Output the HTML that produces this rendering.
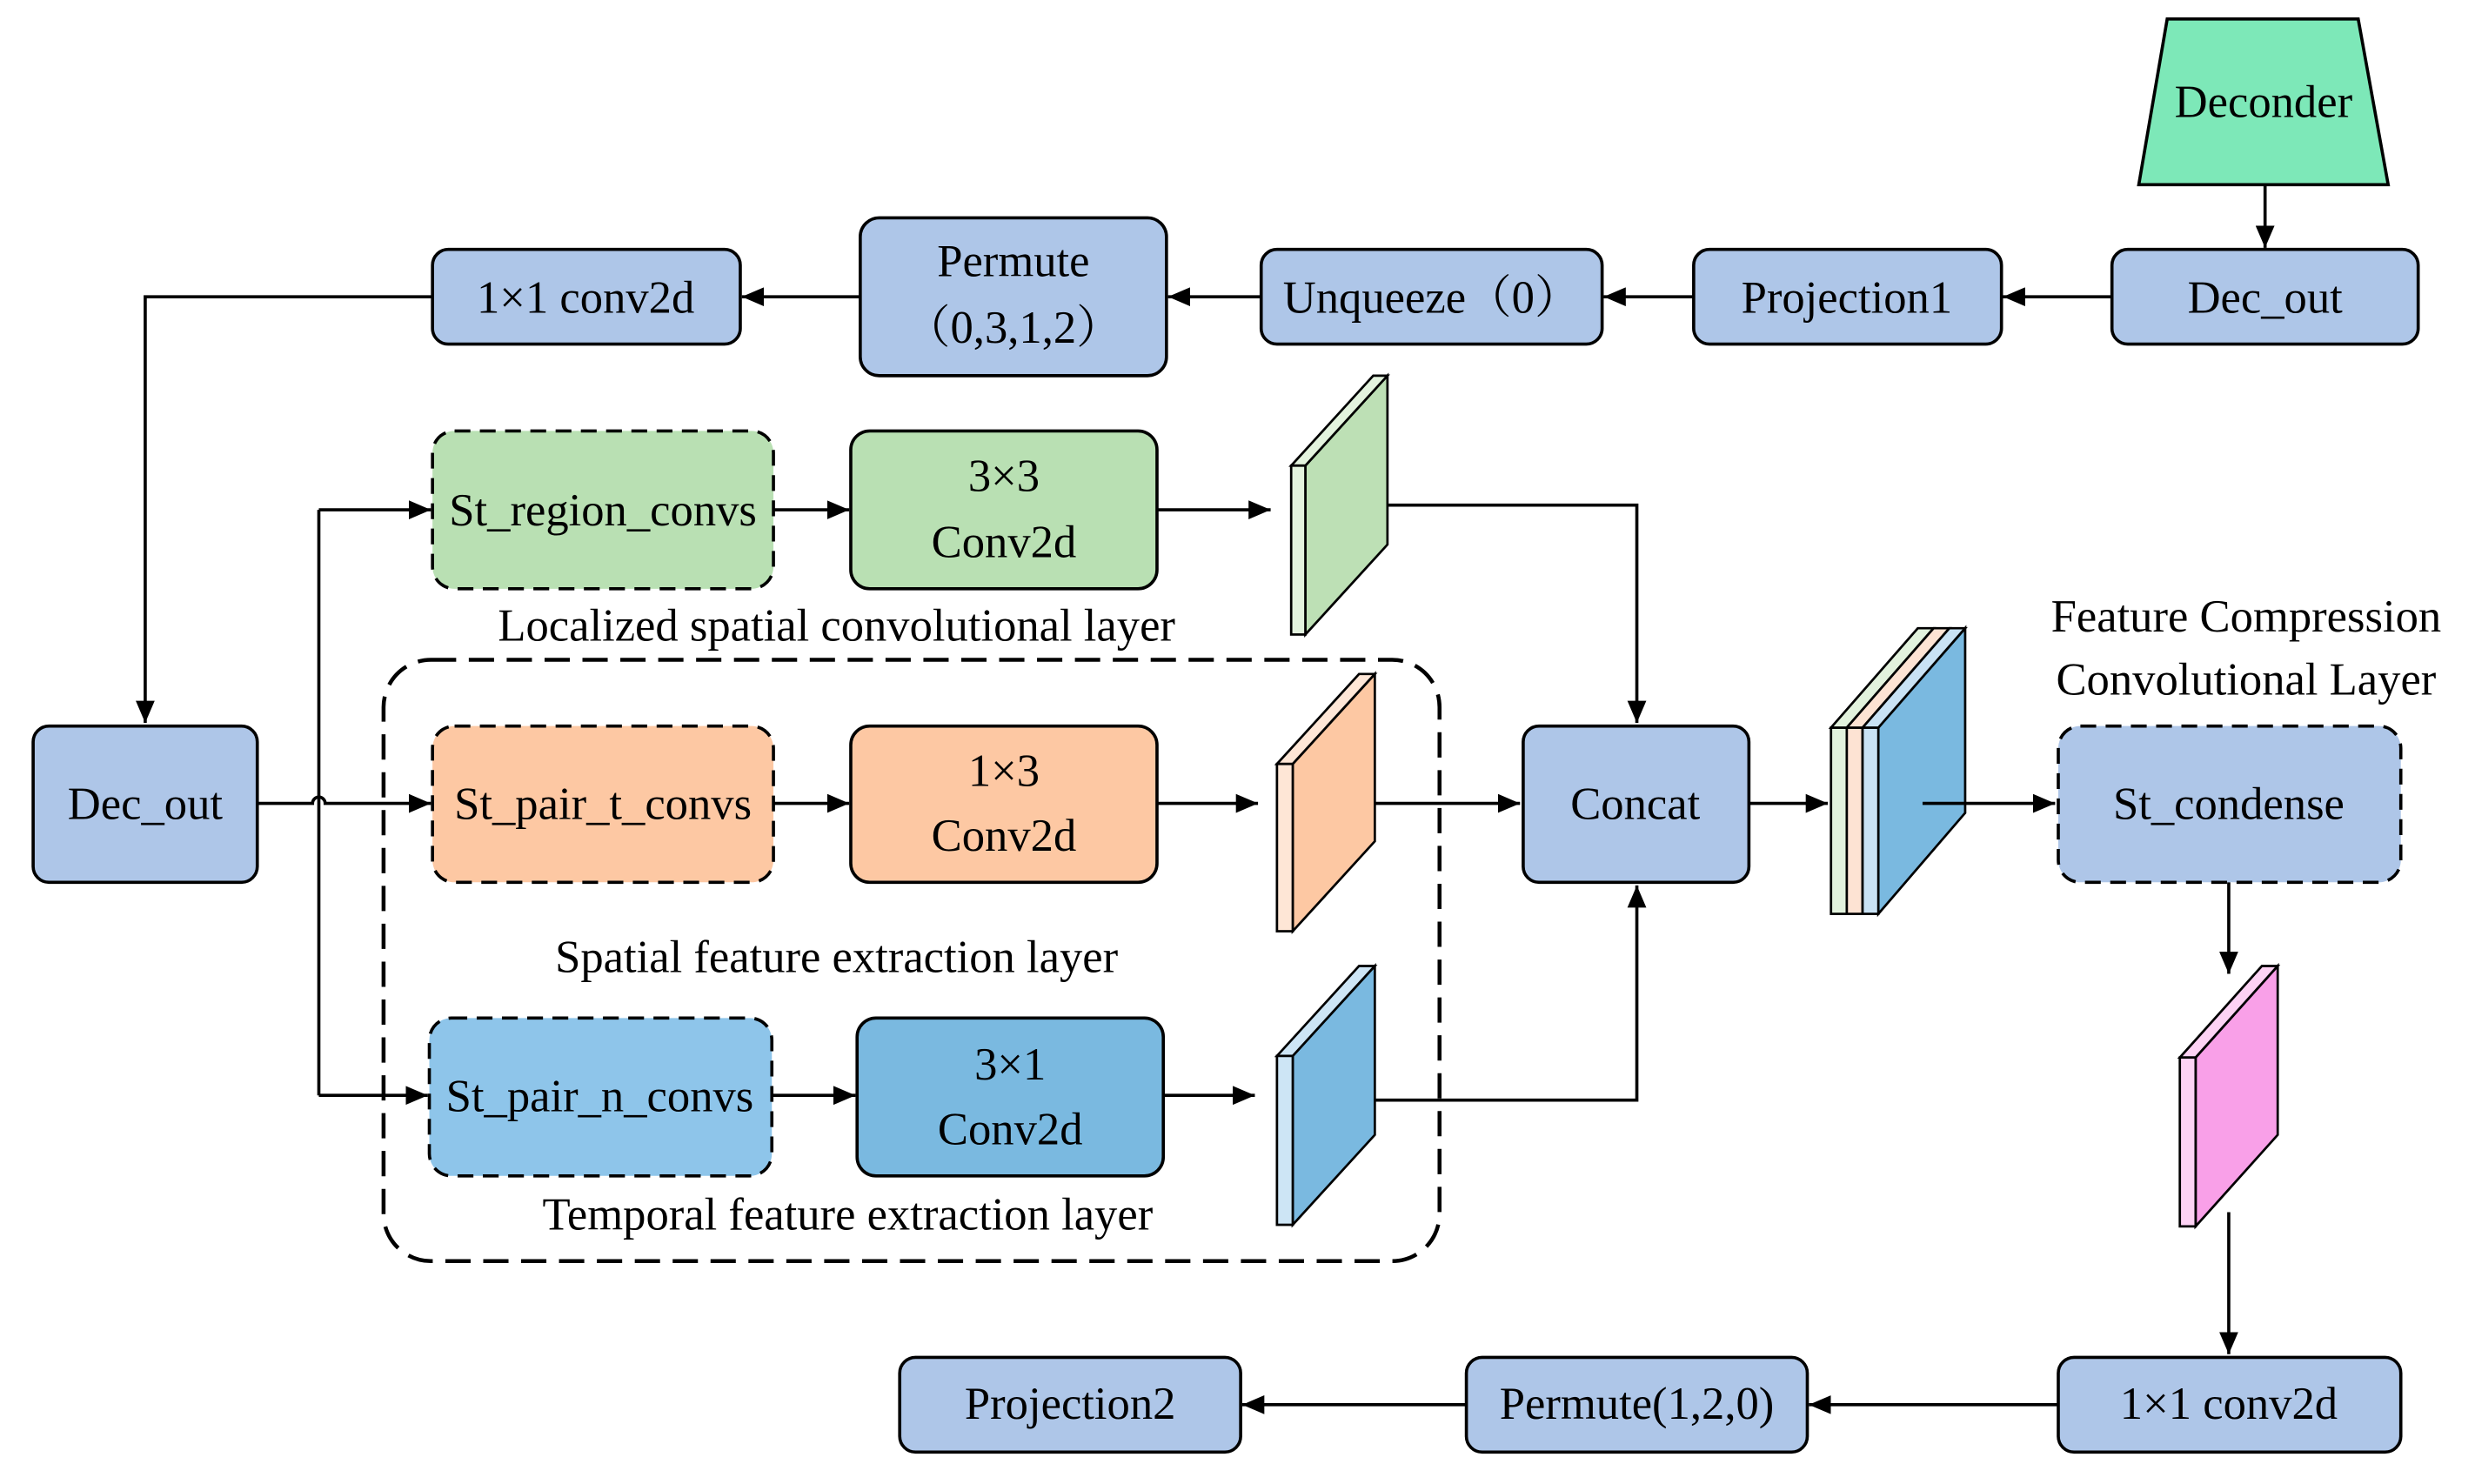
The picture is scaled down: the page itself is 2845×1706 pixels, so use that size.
<!DOCTYPE html>
<html><head><meta charset="utf-8"><style>html,body{margin:0;padding:0;background:#fff}svg{display:block}
text{font-family:"Liberation Serif","Noto Serif CJK SC",serif;font-size:29px}</style></head>
<body>
<svg xmlns="http://www.w3.org/2000/svg" width="2845" height="1706" viewBox="0 0 1568 940.2">
<defs>
<marker id="a" viewBox="0 0 14 12" refX="14" refY="6" markerWidth="14" markerHeight="12" markerUnits="userSpaceOnUse" orient="auto"><path d="M0,0L14,6L0,12z" fill="#000"/></marker>
</defs>
<g fill="none" stroke="#000" stroke-width="2">
<line x1="1435" y1="117" x2="1435" y2="157" marker-end="url(#a)"/>
<line x1="1338" y1="188" x2="1269" y2="188" marker-end="url(#a)"/>
<line x1="1073" y1="188" x2="1016" y2="188" marker-end="url(#a)"/>
<line x1="799" y1="188" x2="740" y2="188" marker-end="url(#a)"/>
<line x1="545" y1="188" x2="470" y2="188" marker-end="url(#a)"/>
<polyline points="274,188 92,188 92,458" marker-end="url(#a)"/>
<path d="M163,509 H198 a4,4 0 0 1 8,0 H273" marker-end="url(#a)"/>
<polyline points="202,323 202,694"/>
<line x1="202" y1="323" x2="273" y2="323" marker-end="url(#a)"/>
<line x1="202" y1="694" x2="271" y2="694" marker-end="url(#a)"/>
<line x1="490" y1="323" x2="538" y2="323" marker-end="url(#a)"/>
<line x1="490" y1="509" x2="538" y2="509" marker-end="url(#a)"/>
<line x1="489" y1="694" x2="542" y2="694" marker-end="url(#a)"/>
<line x1="733" y1="323" x2="805" y2="323" marker-end="url(#a)"/>
<line x1="733" y1="509" x2="797" y2="509" marker-end="url(#a)"/>
<line x1="737" y1="694" x2="795" y2="694" marker-end="url(#a)"/>
<polyline points="879,320 1037,320 1037,458" marker-end="url(#a)"/>
<line x1="871" y1="509" x2="963" y2="509" marker-end="url(#a)"/>
<polyline points="871,697 1037,697 1037,561" marker-end="url(#a)"/>
<line x1="1108" y1="509" x2="1158" y2="509" marker-end="url(#a)"/>
<line x1="1412" y1="559" x2="1412" y2="617" marker-end="url(#a)"/>
<line x1="1412" y1="768" x2="1412" y2="858" marker-end="url(#a)"/>
<line x1="1304" y1="890" x2="1146" y2="890" marker-end="url(#a)"/>
<line x1="929" y1="890" x2="787" y2="890" marker-end="url(#a)"/>
<rect x="243" y="418" width="669" height="381" rx="30" stroke-dasharray="16,8" stroke-width="2.5"/>
</g>
<g stroke="#000" stroke-width="2">
<polygon points="1373,12 1494,12 1513,117 1355,117" fill="#7de8b8"/>
<rect x="1338" y="158" width="194" height="60" rx="10" fill="#aec6e8"/>
<rect x="1073" y="158" width="195" height="60" rx="10" fill="#aec6e8"/>
<rect x="799" y="158" width="216" height="60" rx="10" fill="#aec6e8"/>
<rect x="545" y="138" width="194" height="100" rx="12" fill="#aec6e8"/>
<rect x="274" y="158" width="195" height="60" rx="10" fill="#aec6e8"/>
<rect x="21" y="460" width="142" height="99" rx="10" fill="#aec6e8"/>
<rect x="274" y="273" width="216" height="100" rx="14" fill="#b9e0b3" stroke-dasharray="10,6"/>
<rect x="539" y="273" width="194" height="100" rx="12" fill="#b9e0b3"/>
<rect x="274" y="460" width="216" height="99" rx="14" fill="#fdc8a3" stroke-dasharray="10,6"/>
<rect x="539" y="460" width="194" height="99" rx="12" fill="#fdc8a3"/>
<rect x="272" y="645" width="217" height="100" rx="14" fill="#8ec5ea" stroke-dasharray="10,6"/>
<rect x="543" y="645" width="194" height="100" rx="12" fill="#7ab9e0"/>
<rect x="965" y="460" width="143" height="99" rx="10" fill="#aec6e8"/>
<rect x="1304" y="460" width="217" height="99" rx="14" fill="#aec6e8" stroke-dasharray="10,6"/>
<rect x="1304" y="860" width="217" height="60" rx="10" fill="#aec6e8"/>
<rect x="929" y="860" width="216" height="60" rx="10" fill="#aec6e8"/>
<rect x="570" y="860" width="216" height="60" rx="10" fill="#aec6e8"/>
</g>
<g stroke="#000" stroke-width="1.5">
<polygon points="827,295 879,238 879,345 827,402" fill="#bde0b5"/>
<polygon points="818,295 870,238 879,238 827,295" fill="#e3f3de"/>
<rect x="818" y="295" width="9" height="107" fill="#e3f3de"/>
<polygon points="819,484 871,427 871,533 819,590" fill="#fdc8a3"/>
<polygon points="809,484 861,427 871,427 819,484" fill="#fee6d6"/>
<rect x="809" y="484" width="10" height="106" fill="#fee6d6"/>
<polygon points="819,669 871,612 871,719 819,776" fill="#7ab9e0"/>
<polygon points="809,669 861,612 871,612 819,669" fill="#cde5f5"/>
<rect x="809" y="669" width="10" height="107" fill="#cde5f5"/>
<polygon points="1391,670 1443,612 1443,719 1391,777" fill="#f9a0e8"/>
<polygon points="1381,670 1433,612 1443,612 1391,670" fill="#fdd2f4"/>
<rect x="1381" y="670" width="10" height="107" fill="#fdd2f4"/>
<polygon points="1190,461 1245,398 1245,515 1190,579" fill="#7ab9e0"/>
<rect x="1160" y="461" width="10" height="118" fill="#e2f2dd"/>
<rect x="1170" y="461" width="10" height="118" fill="#fde3d3"/>
<rect x="1180" y="461" width="10" height="118" fill="#c9e2f4"/>
<polygon points="1215,398 1225,398 1170,461 1160,461" fill="#e2f2dd"/>
<polygon points="1225,398 1235,398 1180,461 1170,461" fill="#fde3d3"/>
<polygon points="1235,398 1245,398 1190,461 1180,461" fill="#c9e2f4"/>
</g>
<line x1="1218" y1="509" x2="1302" y2="509" stroke="#000" stroke-width="2" marker-end="url(#a)"/>
<g fill="#000" text-anchor="middle">
<text x="1434" y="74">Deconder</text>
<text x="1435" y="198">Dec_out</text>
<text x="1170" y="198">Projection1</text>
<text x="907" y="198">Unqueeze（0）</text>
<text x="642" y="175">Permute</text>
<text x="642" y="217">（0,3,1,2）</text>
<text x="371" y="198">1×1 conv2d</text>
<text x="92" y="519">Dec_out</text>
<text x="382" y="333">St_region_convs</text>
<text x="636" y="311">3×3</text>
<text x="636" y="353">Conv2d</text>
<text x="530" y="406">Localized spatial convolutional layer</text>
<text x="382" y="519">St_pair_t_convs</text>
<text x="636" y="498">1×3</text>
<text x="636" y="539">Conv2d</text>
<text x="530" y="616">Spatial feature extraction layer</text>
<text x="380" y="704">St_pair_n_convs</text>
<text x="640" y="684">3×1</text>
<text x="640" y="725">Conv2d</text>
<text x="537" y="779">Temporal feature extraction layer</text>
<text x="1036" y="519">Concat</text>
<text x="1423" y="400">Feature Compression</text>
<text x="1423" y="440">Convolutional Layer</text>
<text x="1412" y="519">St_condense</text>
<text x="1412" y="899">1×1 conv2d</text>
<text x="1037" y="899">Permute(1,2,0)</text>
<text x="678" y="899">Projection2</text>
</g>
</svg>
</body></html>
